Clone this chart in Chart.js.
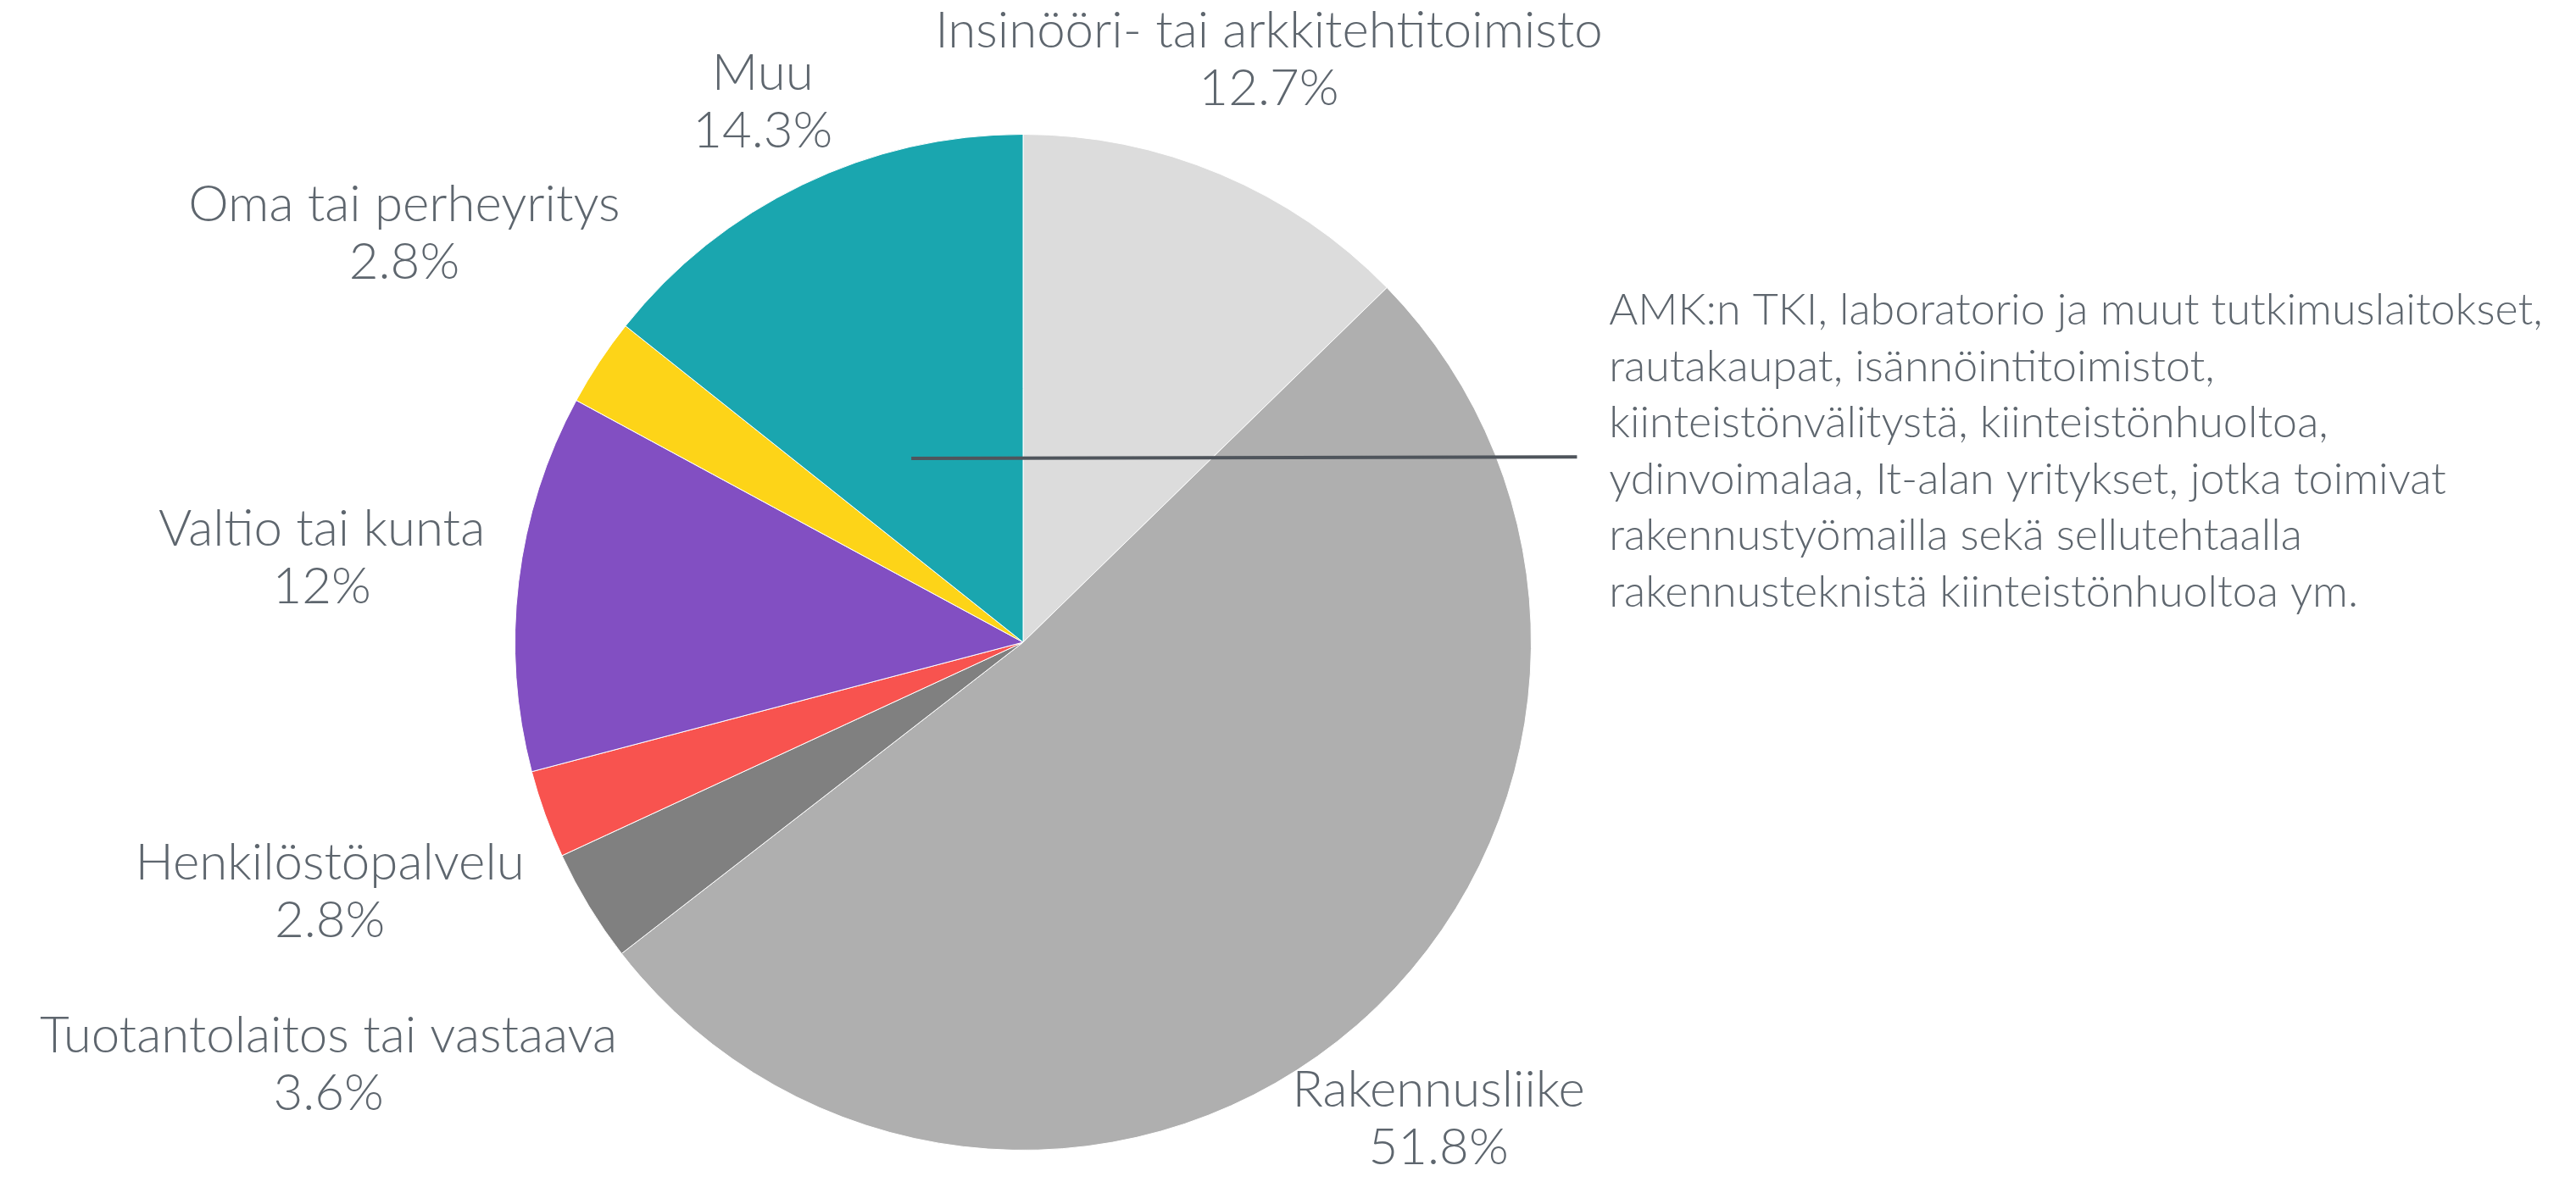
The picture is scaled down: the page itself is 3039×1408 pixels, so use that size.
<!DOCTYPE html>
<html>
<head>
<meta charset="utf-8">
<script src="https://cdn.jsdelivr.net/npm/chart.js@4/dist/chart.umd.min.js"></script>
<style>
  html, body { margin: 0; padding: 0; background: #fff; }
  #wrap { width: 3039px; height: 1408px; }
</style>
</head>
<body>
<div id="wrap"><canvas id="pie-chart"></canvas></div>
<script>
const categories = [
  'Insinööri- tai arkkitehtitoimisto',
  'Rakennusliike',
  'Tuotantolaitos tai vastaava',
  'Henkilöstöpalvelu',
  'Valtio tai kunta',
  'Oma tai perheyritys',
  'Muu'
]
const shares = [12.7, 51.8, 3.6, 2.8, 12, 2.8, 14.3]
const shareLabels = ['12.7%', '51.8%', '3.6%', '2.8%', '12%', '2.8%', '14.3%']
const sliceColors = ['#DCDCDC', '#AFAFAF', '#808080', '#F8534F', '#824FC2', '#FDD418', '#1AA6AF']
const muuNote = [
  'AMK:n TKI, laboratorio ja muut tutkimuslaitokset,',
  'rautakaupat, isännöintitoimistot,',
  'kiinteistönvälitystä, kiinteistönhuoltoa,',
  'ydinvoimalaa, It-alan yritykset, jotka toimivat',
  'rakennustyömailla sekä sellutehtaalla',
  'rakennusteknistä kiinteistönhuoltoa ym.'
]

const textColor = '#5E666E'
const fontFamily = 'Lato, "Open Sans", sans-serif'
const labelFontSize = 60
const noteFontSize = 52

// labels sit on each slice's mid angle, distance in units of the radius
const labelDistance = [1.245, 1.245, 1.6, 1.45, 1.39, 1.46, 1.18]

const sliceLabels = {
  id: 'sliceLabels',
  afterDatasetsDraw(chart) {
    const ctx = chart.ctx
    const arcs = chart.getDatasetMeta(0).data
    ctx.save()
    ctx.fillStyle = textColor
    ctx.font = '300 ' + labelFontSize + 'px ' + fontFamily
    ctx.textAlign = 'center'
    ctx.textBaseline = 'middle'
    arcs.forEach((arc, i) => {
      const mid = (arc.startAngle + arc.endAngle) / 2
      const r = arc.outerRadius * labelDistance[i]
      const x = arc.x + Math.cos(mid) * r
      const y = arc.y + Math.sin(mid) * r
      ctx.fillText(categories[i], x, y - 34)
      ctx.fillText(shareLabels[i], x, y + 34)
    })
    ctx.restore()
  }
}

// leader line from inside the "Muu" slice to the explanation text
const muuCallout = {
  id: 'muuCallout',
  afterDatasetsDraw(chart) {
    const ctx = chart.ctx
    const arc = chart.getDatasetMeta(0).data[6]
    const R = arc.outerRadius
    ctx.save()
    ctx.strokeStyle = '#4F555C'
    ctx.lineWidth = 4
    ctx.beginPath()
    ctx.moveTo(arc.x - 0.22 * R, arc.y - 0.362 * R)
    ctx.lineTo(arc.x + 1.09 * R, arc.y - 0.365 * R)
    ctx.stroke()
    ctx.fillStyle = textColor
    ctx.font = '300 ' + noteFontSize + 'px ' + fontFamily
    ctx.textAlign = 'left'
    ctx.textBaseline = 'middle'
    muuNote.forEach((line, i) => {
      ctx.fillText(line, arc.x + 1.153 * R, arc.y - 0.653 * R + i * 66.5)
    })
    ctx.restore()
  }
}

const ctx = document.getElementById('pie-chart').getContext('2d')
const pieChart = new Chart(ctx, {
  type: 'pie',
  data: {
    labels: categories,
    datasets: [{
      data: shares,
      backgroundColor: sliceColors,
      borderColor: '#ffffff',
      borderWidth: 1
    }]
  },
  options: {
    responsive: true,
    maintainAspectRatio: false,
    animation: false,
    layout: { padding: { left: 607, right: 1232, top: 158, bottom: 50 } },
    plugins: {
      legend: { display: false },
      tooltip: { enabled: false }
    }
  },
  plugins: [sliceLabels, muuCallout]
})
</script>
</body>
</html>
